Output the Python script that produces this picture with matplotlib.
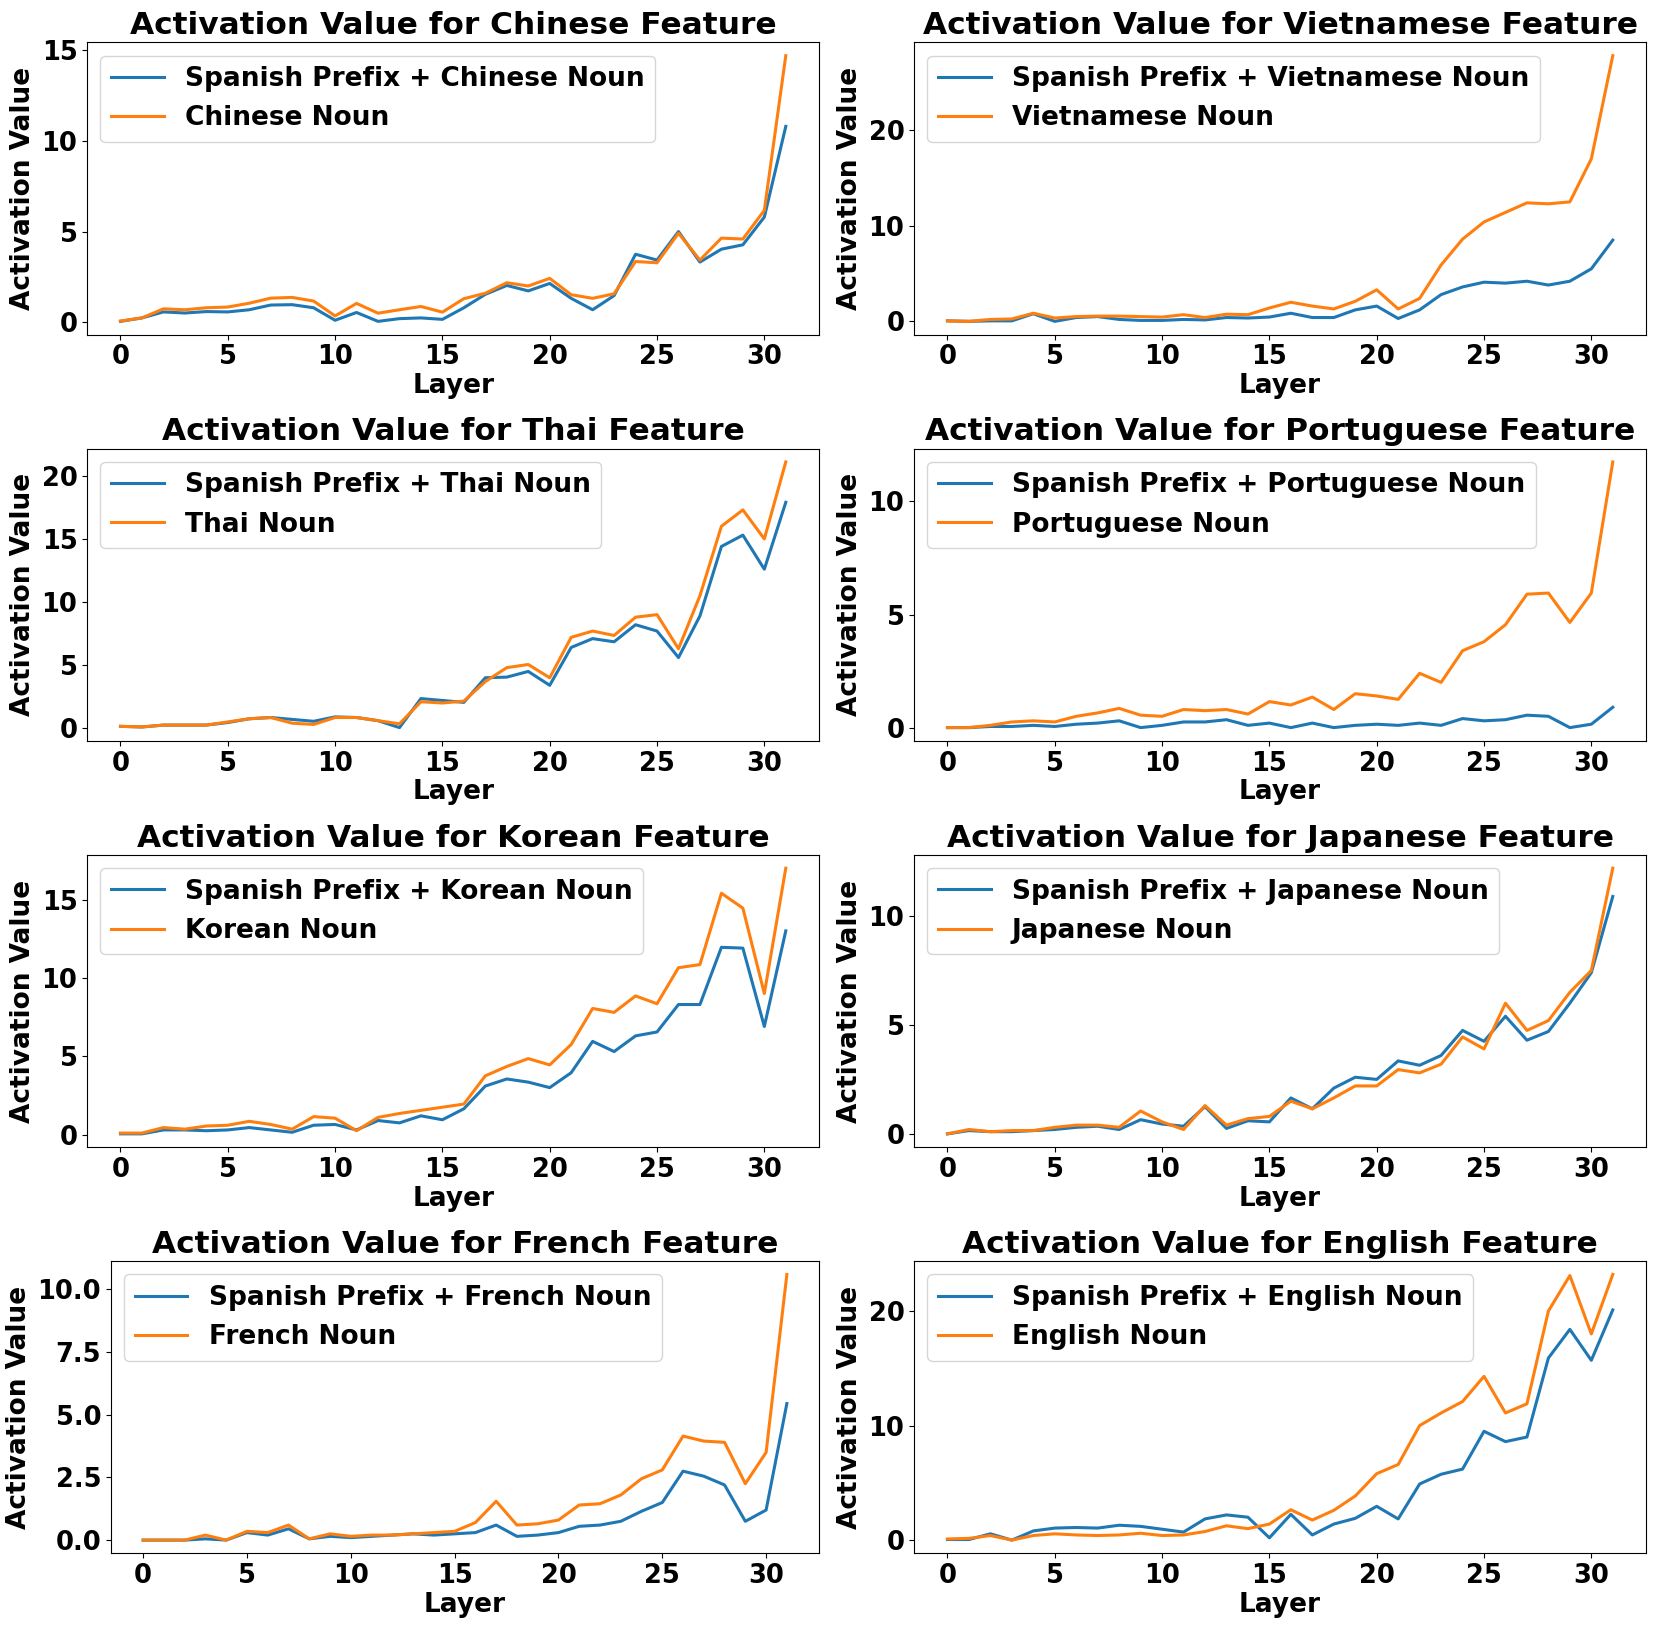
import matplotlib
matplotlib.use("Agg")
import matplotlib.pyplot as plt
import numpy as np

layers = list(range(32))

languages = ["Chinese", "Vietnamese", "Thai", "Portuguese", "Korean", "Japanese", "French", "English"]

chinese_prefix = [0.05, 0.24, 0.57, 0.51, 0.59, 0.57, 0.69, 0.95, 0.97, 0.80, 0.11, 0.54, 0.05, 0.2, 0.24, 0.16,
                  0.8, 1.54, 2.03, 1.73, 2.14, 1.32, 0.69, 1.47, 3.75, 3.43, 5.0, 3.32, 4.03, 4.27, 5.8, 10.8]
chinese_noun = [0.07, 0.24, 0.74, 0.69, 0.8, 0.84, 1.05, 1.33, 1.37, 1.17, 0.35, 1.04, 0.5, 0.69, 0.87, 0.56,
                1.3, 1.6, 2.18, 2.0, 2.42, 1.52, 1.32, 1.57, 3.35, 3.28, 4.91, 3.43, 4.64, 4.59, 6.17, 14.7]

vietnamese_prefix = [0.05, 0.0, 0.05, 0.05, 0.8, 0.0, 0.4, 0.5, 0.2, 0.1, 0.1, 0.2, 0.15, 0.4, 0.35, 0.45,
                     0.85, 0.4, 0.4, 1.2, 1.6, 0.3, 1.2, 2.8, 3.6, 4.1, 4.0, 4.2, 3.8, 4.2, 5.5, 8.5]
vietnamese_noun = [0.05, 0.0, 0.2, 0.25, 0.85, 0.35, 0.5, 0.55, 0.55, 0.5, 0.45, 0.7, 0.4, 0.75, 0.7, 1.4,
                   2.0, 1.6, 1.3, 2.1, 3.3, 1.3, 2.4, 5.9, 8.6, 10.4, 11.4, 12.4, 12.3, 12.5, 17.0, 27.8]

thai_prefix = [0.15, 0.1, 0.25, 0.25, 0.25, 0.45, 0.75, 0.85, 0.7, 0.55, 0.9, 0.85, 0.6, 0.05, 2.35, 2.2,
               2.05, 4.0, 4.05, 4.5, 3.4, 6.4, 7.1, 6.85, 8.2, 7.7, 5.6, 8.9, 14.4, 15.3, 12.6, 17.9]
thai_noun = [0.15, 0.1, 0.25, 0.25, 0.25, 0.5, 0.75, 0.85, 0.4, 0.3, 0.85, 0.85, 0.6, 0.35, 2.1, 2.0,
             2.15, 3.7, 4.8, 5.05, 4.0, 7.2, 7.7, 7.35, 8.8, 9.0, 6.3, 10.5, 16.0, 17.3, 15.0, 21.1]

portuguese_prefix = [0.0, 0.0, 0.05, 0.05, 0.1, 0.05, 0.15, 0.2, 0.3, 0.0, 0.1, 0.25, 0.25, 0.35, 0.1, 0.2,
                     0.0, 0.2, 0.0, 0.1, 0.15, 0.1, 0.2, 0.1, 0.4, 0.3, 0.35, 0.55, 0.5, 0.0, 0.15, 0.9]
portuguese_noun = [0.0, 0.0, 0.1, 0.25, 0.3, 0.25, 0.5, 0.65, 0.85, 0.55, 0.5, 0.8, 0.75, 0.8, 0.6, 1.15,
                   1.0, 1.35, 0.8, 1.5, 1.4, 1.25, 2.4, 2.0, 3.4, 3.8, 4.55, 5.9, 5.95, 4.65, 5.95, 11.75]

korean_prefix = [0.05, 0.05, 0.3, 0.3, 0.25, 0.3, 0.45, 0.3, 0.15, 0.6, 0.65, 0.3, 0.9, 0.75, 1.2, 0.95,
                 1.65, 3.1, 3.55, 3.35, 3.0, 3.95, 5.95, 5.3, 6.3, 6.55, 8.3, 8.3, 11.95, 11.9, 6.9, 13.0]
korean_noun = [0.1, 0.1, 0.45, 0.35, 0.55, 0.6, 0.85, 0.65, 0.35, 1.15, 1.05, 0.25, 1.1, 1.35, 1.55, 1.75,
               1.95, 3.75, 4.35, 4.85, 4.45, 5.75, 8.05, 7.8, 8.85, 8.35, 10.65, 10.85, 15.4, 14.45, 9.0, 17.0]

japanese_prefix = [0.0, 0.15, 0.1, 0.1, 0.15, 0.2, 0.3, 0.35, 0.2, 0.65, 0.45, 0.35, 1.25, 0.25, 0.6, 0.55,
                   1.65, 1.15, 2.1, 2.6, 2.5, 3.35, 3.15, 3.6, 4.75, 4.25, 5.4, 4.3, 4.7, 6.0, 7.4, 10.9]
japanese_noun = [0.0, 0.2, 0.1, 0.15, 0.15, 0.3, 0.4, 0.4, 0.3, 1.05, 0.55, 0.2, 1.3, 0.4, 0.7, 0.8,
                 1.5, 1.15, 1.65, 2.2, 2.2, 2.95, 2.8, 3.2, 4.45, 3.9, 6.0, 4.75, 5.2, 6.5, 7.5, 12.2]

french_prefix = [0.0, 0.0, 0.0, 0.05, 0.0, 0.3, 0.2, 0.45, 0.05, 0.15, 0.1, 0.15, 0.2, 0.25, 0.2, 0.25,
                 0.3, 0.6, 0.15, 0.2, 0.3, 0.55, 0.6, 0.75, 1.15, 1.5, 2.75, 2.55, 2.2, 0.75, 1.2, 5.45]
french_noun = [0.0, 0.0, 0.0, 0.2, 0.0, 0.35, 0.3, 0.6, 0.05, 0.25, 0.15, 0.2, 0.2, 0.25, 0.3, 0.35,
               0.7, 1.55, 0.6, 0.65, 0.8, 1.4, 1.45, 1.8, 2.45, 2.8, 4.15, 3.95, 3.9, 2.25, 3.5, 10.6]

english_prefix = [0.05, 0.05, 0.55, 0.0, 0.8, 1.05, 1.1, 1.05, 1.3, 1.2, 0.95, 0.7, 1.85, 2.2, 2.0, 0.2,
                  2.25, 0.45, 1.4, 1.9, 2.95, 1.85, 4.9, 5.75, 6.2, 9.5, 8.6, 9.0, 15.9, 18.4, 15.7, 20.1]
english_noun = [0.1, 0.15, 0.4, 0.0, 0.4, 0.55, 0.45, 0.4, 0.45, 0.6, 0.4, 0.45, 0.75, 1.25, 1.0, 1.4,
                2.65, 1.75, 2.6, 3.85, 5.8, 6.6, 10.0, 11.1, 12.1, 14.3, 11.1, 11.9, 20.0, 23.1, 18.0, 23.2]

series = {
    "Chinese": (chinese_prefix, chinese_noun),
    "Vietnamese": (vietnamese_prefix, vietnamese_noun),
    "Thai": (thai_prefix, thai_noun),
    "Portuguese": (portuguese_prefix, portuguese_noun),
    "Korean": (korean_prefix, korean_noun),
    "Japanese": (japanese_prefix, japanese_noun),
    "French": (french_prefix, french_noun),
    "English": (english_prefix, english_noun),
}

plt.rcParams['font.family'] = ['DejaVu Sans']
plt.rcParams['font.weight'] = 'bold'
plt.rcParams['axes.labelweight'] = 'bold'
plt.rcParams['axes.titleweight'] = 'bold'

fig, axes = plt.subplots(4, 2, figsize=(16.61, 16.3), dpi=100)
for ax, lang in zip(axes.flat, languages):
    pre, noun = series[lang]
    ax.plot(layers, pre, color='#1f77b4', linewidth=2.2, label=f"Spanish Prefix + {lang} Noun")
    ax.plot(layers, noun, color='#ff7f0e', linewidth=2.2, label=f"{lang} Noun")
    ax.set_title(f"Activation Value for {lang} Feature", fontsize=22.5, fontweight='bold')
    ax.set_xlabel("Layer", fontsize=19, fontweight='bold', labelpad=2)
    ax.set_ylabel("Activation Value", fontsize=19, fontweight='bold')
    ax.tick_params(axis='both', labelsize=18.5)
    for lbl in ax.get_xticklabels() + ax.get_yticklabels():
        lbl.set_fontweight('bold')
    ax.legend(loc='upper left', prop={'weight': 'bold', 'size': 19})

fig.subplots_adjust(left=0.0525, right=0.991, top=0.974, bottom=0.047, wspace=0.13, hspace=0.39)

# the French panel has wider tick labels, so its axes start further right
fr = axes[3, 0]
p = fr.get_position()
new_left = 0.0668
fr.set_position([new_left, p.y0, p.x1 - new_left, p.height])

fig.savefig("out.png", dpi=100)
